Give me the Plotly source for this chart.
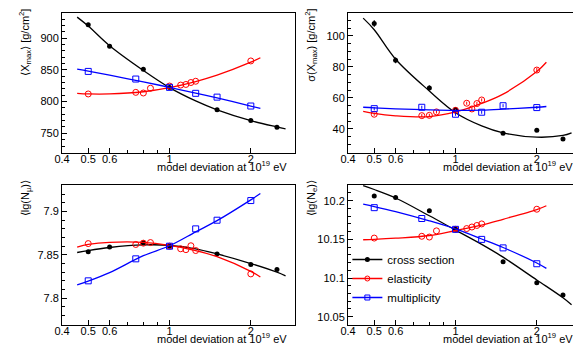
import numpy as np
import plotly.graph_objects as go

# %% Daten

# x-Werte der Modellabweichung
x_cross = [0.5, 0.6, 0.8, 1, 1.5, 2, 2.5]
x_elast = [0.5, 0.75, 0.8, 0.85, 1, 1.1, 1.15, 1.2, 1.25, 2]
x_mult = [0.5, 0.75, 1, 1.25, 1.5, 2]

# <Xmax>
xmax_cross = [921, 887, 851, 822, 787, 770, 759.5]
xmax_elast = [812, 814.5, 813.5, 821, 824.5, 826, 827, 830, 832, 864]
xmax_mult = [847.5, 835.5, 822.4, 813, 807, 793]

# sigma(Xmax)
sigma_cross = [108, 84.3, 66.5, 52.5, 37.2, 39.1, 33.5]
sigma_cross_err = [2.2, 1.9, 1.6, 1.2, 0.9, 0.9, 0.8]
sigma_elast = [49.5, 48.6, 48.8, 51, 52, 56.6, 52.9, 56.4, 58.7, 78]
sigma_elast_err = [1, 1, 1, 1, 1, 1, 1, 1, 1, 1.4]
sigma_mult = [53.1, 54, 49.5, 50.8, 55, 53.8]
sigma_mult_err = [1, 1, 1, 1, 1, 1]

# <lg(N_mu)>
nmu_cross = [7.8535, 7.859, 7.864, 7.860, 7.851, 7.839, 7.833]
nmu_elast = [7.863, 7.862, 7.8635, 7.8642, 7.860, 7.857, 7.856, 7.8605, 7.855, 7.828]
nmu_mult = [7.820, 7.8454, 7.860, 7.880, 7.890, 7.9127]

# <lg(N_e)>
ne_cross = [10.206, 10.204, 10.187, 10.163, 10.121, 10.094, 10.078]
ne_elast = [10.1517, 10.154, 10.153, 10.161, 10.163, 10.164, 10.166, 10.168, 10.170, 10.189]
ne_mult = [10.191, 10.177, 10.163, 10.150, 10.139, 10.1185]

# Fit-Kurven (Stützstellen aus dem Bild)
fit_x_long = [0.455, 0.5, 0.6, 0.8, 1, 1.25, 1.5, 2, 2.5, 2.69]
fit_x_short = [0.455, 0.5, 0.6, 0.8, 1, 1.25, 1.5, 2, 2.17]

fit_xmax_cross = [933, 919, 888, 849, 822, 801, 787, 770, 760, 757]
fit_xmax_elast = [813, 812, 812, 815.5, 822, 831.5, 841.5, 862, 869]
fit_xmax_mult = [851, 848, 841.5, 831, 822.4, 813.3, 805.7, 793, 789.3]

fit_sigma_cross = [111.5, 104, 85, 64.5, 50.5, 42, 37.5, 34.7, 35.8, 37.5]
fit_sigma_elast = [51.4, 50, 48.5, 48, 51, 56.5, 62.5, 77, 83]
fit_sigma_mult = [54, 53.6, 53, 52.3, 52, 52.2, 52.8, 54, 54.5]

fit_nmu_cross = [7.8527, 7.855, 7.8585, 7.8615, 7.861, 7.857, 7.851, 7.840, 7.830, 7.8257]
fit_nmu_elast = [7.859, 7.862, 7.8645, 7.8645, 7.861, 7.855, 7.848, 7.831, 7.8245]
fit_nmu_mult = [7.8154, 7.8197, 7.8295, 7.849, 7.8605, 7.8765, 7.8895, 7.9135, 7.9208]

fit_ne_cross = [10.2195, 10.2145, 10.2035, 10.1805, 10.162, 10.1435, 10.127, 10.0975, 10.0745, 10.0655]
fit_ne_elast = [10.1495, 10.150, 10.1515, 10.155, 10.1615, 10.1685, 10.176, 10.1885, 10.1935]
fit_ne_mult = [10.1955, 10.1925, 10.186, 10.174, 10.1635, 10.1505, 10.1395, 10.1195, 10.1125]

series_names = ["cross section", "elasticity", "multiplicity"]
x_ticks = [0.4, 0.5, 0.6, 1, 2]

# %% Layout-Geometrie (Pixel)
W, H = 581, 345
FONT = "Liberation Sans, Arial, Helvetica, sans-serif"
BLACK, RED, BLUE = "#000000", "#ff0000", "#0000ff"

def px_x(a, b):
    return [a / W, b / W]

def px_y(top, bottom):
    return [1 - bottom / H, 1 - top / H]

panels = [
    dict(xd=px_x(46.7, 282.7), yd=px_y(4.7, 145), yr=[719, 940], dt=50, mn=10,
         title="⟨X<sub>max</sub>⟩ [g/cm<sup>2</sup>]"),
    dict(xd=px_x(336.7, 572.7), yd=px_y(4.7, 145), yr=[24.5, 115], dt=20, mn=5,
         title="σ(X<sub>max</sub>) [g/cm<sup>2</sup>]"),
    dict(xd=px_x(46.7, 282.7), yd=px_y(176.7, 317), yr=[7.769, 7.931], dt=0.05, mn=0.01,
         title="⟨lg(N<sub>μ</sub>)⟩"),
    dict(xd=px_x(336.7, 572.7), yd=px_y(176.7, 317), yr=[10.0393, 10.2207], dt=0.05, mn=0.01,
         title="⟨lg(N<sub>e</sub>)⟩"),
]

data_sets = [
    (xmax_cross, xmax_elast, xmax_mult, None, None, None,
     fit_xmax_cross, fit_xmax_elast, fit_xmax_mult),
    (sigma_cross, sigma_elast, sigma_mult, sigma_cross_err, sigma_elast_err, sigma_mult_err,
     fit_sigma_cross, fit_sigma_elast, fit_sigma_mult),
    (nmu_cross, nmu_elast, nmu_mult, None, None, None,
     fit_nmu_cross, fit_nmu_elast, fit_nmu_mult),
    (ne_cross, ne_elast, ne_mult, None, None, None,
     fit_ne_cross, fit_ne_elast, fit_ne_mult),
]

fig = go.Figure()

markers = [
    dict(symbol="circle", size=5, color=BLACK),
    dict(symbol="circle-open", size=6, color=RED, line=dict(width=1, color=RED)),
    dict(symbol="square-open", size=6, color=BLUE, line=dict(width=1, color=BLUE)),
]
colors = [BLACK, RED, BLUE]
xs = [x_cross, x_elast, x_mult]

for i, (p, ds) in enumerate(zip(panels, data_sets)):
    sfx = "" if i == 0 else str(i + 1)
    xa, ya = "x" + sfx, "y" + sfx
    ys = ds[0:3]
    errs = ds[3:6]
    fits = ds[6:9]
    fit_xs = [fit_x_long, fit_x_short, fit_x_short]
    for k in range(3):
        # Fit-Kurve
        fig.add_trace(go.Scatter(
            x=fit_xs[k], y=fits[k], mode="lines", line=dict(color=colors[k], width=1.3, shape="spline"),
            xaxis=xa, yaxis=ya, showlegend=False, hoverinfo="skip"))
        # Messpunkte
        err = dict(type="data", array=errs[k], color=colors[k], thickness=1, width=0) if errs[k] else None
        fig.add_trace(go.Scatter(
            x=xs[k], y=ys[k], mode="markers", marker=markers[k], error_y=err,
            xaxis=xa, yaxis=ya, showlegend=False))

    fig.layout["xaxis" + sfx] = dict(
        domain=p["xd"], anchor=ya, type="log", range=[np.log10(0.4), 0.464],
        tickmode="array", tickvals=x_ticks, ticktext=[str(v) for v in x_ticks],
        ticks="inside", ticklen=5, tickcolor="black", tickwidth=1, ticklabelstandoff=-4,
        minor=dict(tickmode="array", tickvals=[0.7, 0.8, 0.9], ticks="inside", ticklen=3, tickcolor="black"),
        showline=True, mirror=True, linecolor="black", linewidth=1,
        showgrid=False, zeroline=False, tickfont=dict(size=11, color="black", family=FONT))
    fig.layout["yaxis" + sfx] = dict(
        domain=p["yd"], anchor=xa, range=p["yr"], dtick=p["dt"], tick0=0,
        ticks="inside", ticklen=5, tickcolor="black", tickwidth=1,
        minor=dict(dtick=p["mn"], ticks="inside", ticklen=3, tickcolor="black"),
        showline=True, mirror=True, linecolor="black", linewidth=1,
        showgrid=False, zeroline=False, tickfont=dict(size=11, color="black", family=FONT))

    # Achsentitel wie bei ROOT: y oben bündig, x rechts bündig
    fig.add_annotation(
        text=p["title"], textangle=-90, xref="paper", yref="paper",
        x=(p["xd"][0] * W - 37) / W, y=p["yd"][1] + 6 / H, xanchor="center", yanchor="top",
        showarrow=False, font=dict(size=11, color="black", family=FONT))
    fig.add_annotation(
        text="model deviation at 10<sup>19</sup> eV", xref="paper", yref="paper",
        x=p["xd"][1] - 6 / W, y=p["yd"][0] - 4 / H, xanchor="right", yanchor="top",
        showarrow=False, font=dict(size=11, color="black", family=FONT))

# Legende (nur Symbol-Einträge)
for k in range(3):
    fig.add_trace(go.Scatter(
        x=[None], y=[None], mode="lines+markers", name=series_names[k],
        marker=dict(markers[k], size=5), line=dict(color=colors[k], width=1.3),
        xaxis="x4", yaxis="y4", showlegend=True))

fig.update_layout(
    width=W, height=H, margin=dict(l=0, r=0, t=0, b=0),
    paper_bgcolor="white", plot_bgcolor="white",
    font=dict(family=FONT, color="black"),
    legend=dict(x=336 / W, y=1 - 237 / H, xanchor="left", yanchor="top",
                bgcolor="rgba(0,0,0,0)", font=dict(size=11.5, family=FONT, color="black"),
                itemwidth=30, tracegroupgap=0),
)

fig.write_html("out.html")
